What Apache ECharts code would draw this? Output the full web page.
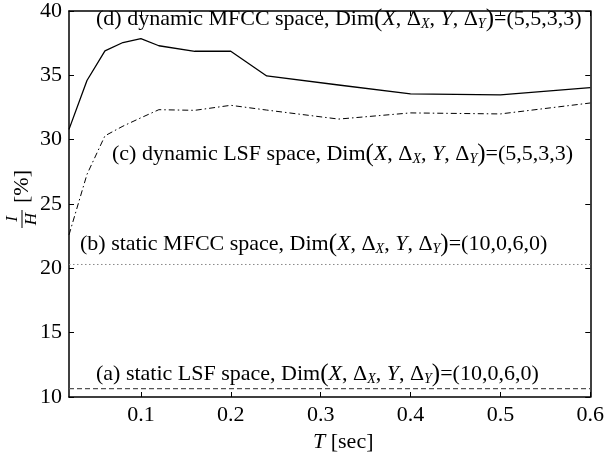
<!DOCTYPE html>
<html><head><meta charset="utf-8">
<script src="https://cdn.jsdelivr.net/npm/echarts@6/dist/echarts.min.js"></script>
<style>html,body{margin:0;padding:0;background:#fff}#c{width:607px;height:464px}</style>
</head><body><div id="c"></div>
<script>
const T = [0.02,0.04,0.06,0.08,0.10,0.12,0.16,0.20,0.24,0.32,0.40,0.50,0.60];
const dynMfcc = [30.8,34.6,36.9,37.55,37.85,37.3,36.87,36.87,34.95,34.25,33.56,33.48,34.05];
const dynLsf  = [22.6,27.3,30.3,31.05,31.7,32.33,32.28,32.67,32.3,31.6,32.08,32.0,32.85];
const staticMfcc = 20.3;
const staticLsf = 10.65;
const xTicks = [0.1,0.2,0.3,0.4,0.5,0.6];
const yTicks = [10,15,20,25,30,35,40];

const pair = (xs, ys) => xs.map((x,i)=>[x,ys[i]]);
const flat = v => [[T[0], v],[T[T.length-1], v]];
const F = 'Liberation Serif';
const FS = 22;
const LH = 26;
const rich = {
  n:{fontFamily:F,fontSize:FS,color:'#000',lineHeight:LH},
  i:{fontFamily:F,fontSize:FS,fontStyle:'italic',color:'#000',lineHeight:LH},
  p:{fontFamily:F,fontSize:25,color:'#000',lineHeight:LH},
  s:{fontFamily:F,fontSize:14,fontStyle:'italic',color:'#000',padding:[9,0,0,0],lineHeight:LH}
};
const dimTxt = (head, tail) => '{n|'+head+' Dim}{p|(}{i|X}{n|, Δ}{s|X}{n|, }{i|Y}{n|, Δ}{s|Y}{p|)}{n|='+tail+'}';
function ann(x, y, head, tail){
  return {type:'text', left:x, top:y, style:{text:dimTxt(head,tail), rich:rich, fill:'#000'}};
}
const chart = echarts.init(document.getElementById('c'));
const axisCommon = {
  axisLine:{show:true,onZero:false,lineStyle:{color:'#000',width:1.5}},
  splitLine:{show:false}
};
chart.setOption({
  animation:false,
  backgroundColor:'#fff',
  grid:{left:69,right:10,top:7,bottom:67,containLabel:false},
  xAxis:[
    Object.assign({type:'value',min:0.02,max:0.6,position:'bottom',
      axisTick:{show:true,inside:true,length:5,customValues:xTicks,lineStyle:{color:'#000'}},
      axisLabel:{customValues:xTicks,fontFamily:F,fontSize:FS,color:'#000',margin:7,formatter:v=>(+v).toFixed(1)}
    },axisCommon),
    Object.assign({type:'value',min:0.02,max:0.6,position:'top',
      axisTick:{show:true,inside:true,length:5,customValues:xTicks,lineStyle:{color:'#000'}},
      axisLabel:{show:false}
    },axisCommon)
  ],
  yAxis:[
    Object.assign({type:'value',min:10,max:40,interval:5,position:'left',
      axisTick:{show:true,inside:true,length:5,lineStyle:{color:'#000'}},
      axisLabel:{fontFamily:F,fontSize:FS,color:'#000',margin:7}
    },axisCommon),
    Object.assign({type:'value',min:10,max:40,interval:5,position:'right',
      axisTick:{show:true,inside:true,length:5,lineStyle:{color:'#000'}},
      axisLabel:{show:false}
    },axisCommon)
  ],
  series:[
    {type:'line',data:pair(T,dynMfcc),showSymbol:false,lineStyle:{color:'#000',width:1.3,type:'solid'}},
    {type:'line',data:pair(T,dynLsf),showSymbol:false,lineStyle:{color:'#000',width:1,type:[6,3,1.5,3]}},
    {type:'line',data:flat(staticMfcc),showSymbol:false,lineStyle:{color:'#888',width:1,type:[1.5,2.5]}},
    {type:'line',data:flat(staticLsf),showSymbol:false,lineStyle:{color:'#555',width:1.3,type:[5,3]}}
  ],
  graphic:[
    ann(96,7,'(d) dynamic MFCC space,','(5,5,3,3)'),
    ann(112,142,'(c) dynamic LSF space,','(5,5,3,3)'),
    ann(80,232,'(b) static MFCC space,','(10,0,6,0)'),
    ann(96,362,'(a) static LSF space,','(10,0,6,0)'),
    {type:'text',left:313,top:431,style:{text:'{i|T}{n| [sec]}',rich:rich}},
    {type:'group',x:22,y:200,rotation:Math.PI/2,children:[
      {type:'text',x:-19,y:-1,style:{text:'{i|I}',rich:{i:{fontFamily:F,fontSize:17,fontStyle:'italic',color:'#000'}},align:'center',verticalAlign:'bottom'}},
      {type:'line',shape:{x1:-28,y1:0,x2:-10,y2:0},style:{stroke:'#000',lineWidth:1}},
      {type:'text',x:-19,y:1,style:{text:'{i|H}',rich:{i:{fontFamily:F,fontSize:17,fontStyle:'italic',color:'#000'}},align:'center',verticalAlign:'top'}},
      {type:'text',x:-3,y:0,style:{text:'[%]',font:'22px "Liberation Serif"',fill:'#000',align:'left',verticalAlign:'middle'}}
    ]}
  ]
});
</script></body></html>
